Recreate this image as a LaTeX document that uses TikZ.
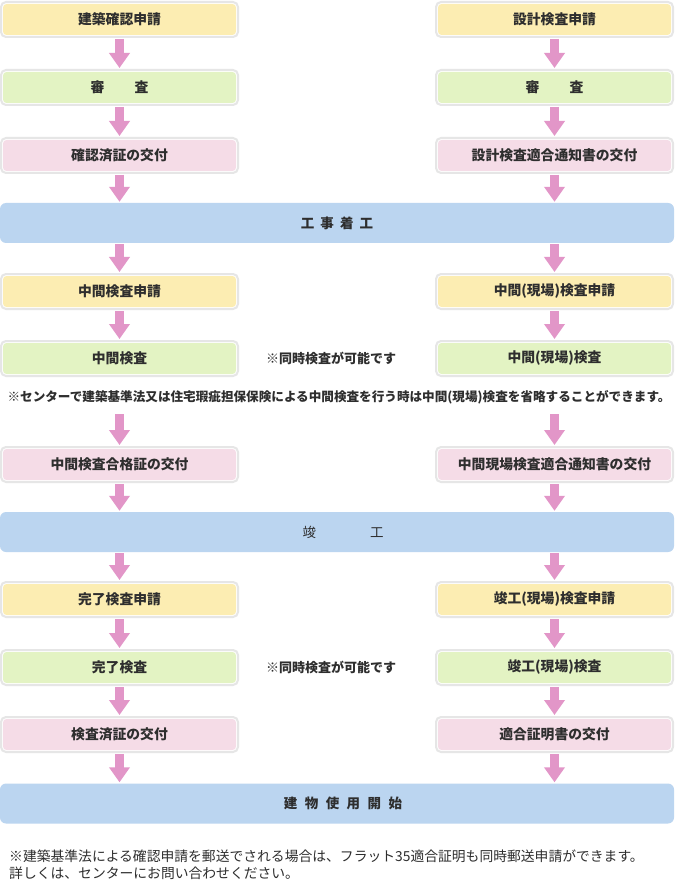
\documentclass[tikz,border=0pt]{standalone}
\usepackage{fontspec}
\setmainfont{Noto Sans CJK JP}
\usetikzlibrary{arrows.meta}
\definecolor{ylw}{HTML}{FCEDB2}
\definecolor{grn}{HTML}{E3F3C3}
\definecolor{pnk}{HTML}{F5DCE7}
\definecolor{bgray}{HTML}{E6E6E6}
\definecolor{bandblue}{HTML}{BBD5F0}
\definecolor{arrpink}{HTML}{E296C8}
\definecolor{txt}{HTML}{2E2E2E}
\begin{document}
\begin{tikzpicture}[x=1pt,y=-1pt,
  box/.style={draw=bgray, line width=2pt, fill=white, rounded corners=5pt,
    minimum width=237pt, minimum height=35pt, inner sep=0pt, text=txt,
    font=\bfseries\fontsize{13.8}{15}\selectfont,
    path picture={\fill[#1, rounded corners=3.5pt]
      ([shift={(2pt,-2pt)}]path picture bounding box.north west) rectangle
      ([shift={(-2pt,2pt)}]path picture bounding box.south east);}},
  band/.style={fill=bandblue, rounded corners=6pt, minimum width=674pt,
    minimum height=40pt, inner sep=0pt},
  bandtext/.style={text=txt, inner sep=0pt, font=\bfseries\fontsize{13.5}{15}\selectfont},
  note/.style={text=txt, inner sep=0pt, font=\bfseries\fontsize{13}{15}\selectfont},
  arr/.style={draw=arrpink, line width=9pt, -{Triangle[width=20pt,length=15pt]},
    shorten <=1pt, shorten >=1pt}]
\useasboundingbox (0,0) rectangle (674,882);
\fill[white] (0,0) rectangle (674,882);

% left column
\node[box=ylw] (L1) at (119.5,19.5) {建築確認申請};
\node[box=grn] (L2) at (119.5,87.5) {審\hspace{2.2em}査};
\node[box=pnk] (L3) at (119.5,155.5) {確認済証の交付};
\node[box=ylw] (L4) at (119.5,291.5) {中間検査申請};
\node[box=grn] (L5) at (119.5,358.5) {中間検査};
\node[box=pnk] (L6) at (119.5,464.5) {中間検査合格証の交付};
\node[box=ylw] (L7) at (119.5,599.5) {完了検査申請};
\node[box=grn] (L8) at (119.5,667.5) {完了検査};
\node[box=pnk] (L9) at (119.5,734.5) {検査済証の交付};

% right column
\node[box=ylw] (R1) at (554.5,19.5) {設計検査申請};
\node[box=grn] (R2) at (554.5,87.5) {審\hspace{2.2em}査};
\node[box=pnk] (R3) at (554.5,155.5) {設計検査適合通知書の交付};
\node[box=ylw] (R4) at (554.5,291.5) {中間(現場)検査申請};
\node[box=grn] (R5) at (554.5,358.5) {中間(現場)検査};
\node[box=pnk] (R6) at (554.5,464.5) {中間現場検査適合通知書の交付};
\node[box=ylw] (R7) at (554.5,599.5) {竣工(現場)検査申請};
\node[box=grn] (R8) at (554.5,667.5) {竣工(現場)検査};
\node[box=pnk] (R9) at (554.5,734.5) {適合証明書の交付};

% bands
\node[band] (B1) at (337,223) {};
\node[bandtext] (B1t) at (337,223) {工\hspace{0.45em}事\hspace{0.45em}着\hspace{0.45em}工};
\node[band] (B2) at (337,532) {};
\node[bandtext, font=\fontsize{13.5}{15}\selectfont] (B2t) at (343,532) {竣\hspace{4em}工};
\node[band] (B3) at (337,803.5) {};
\node[bandtext] (B3t) at (343,803.5) {建\hspace{0.55em}物\hspace{0.55em}使\hspace{0.55em}用\hspace{0.55em}開\hspace{0.55em}始};

% notes
\node[note] (N1) at (331,358) {※同時検査が可能です};
\node[note] (N2) at (331,667) {※同時検査が可能です};
\node[note, font=\bfseries\fontsize{12.6}{15}\selectfont] (N3) at (339,397)
  {※センターで建築基準法又は住宅瑕疵担保保険による中間検査を行う時は中間(現場)検査を省略することができます。};
\node[text=txt, inner sep=0pt, anchor=west, align=left,
  font=\fontsize{13.8}{17}\selectfont] (FN) at (9,864.5)
  {※建築基準法による確認申請を郵送でされる場合は、フラット35適合証明も同時郵送申請ができます。\\
   詳しくは、センターにお問い合わせください。};

% arrows
\coordinate (SL6) at (119.5,413);
\coordinate (SR6) at (554.5,413);
\draw[arr] (L1) -- (L2);
\draw[arr] (L2) -- (L3);
\draw[arr] (L3.south) -- (L3.south |- B1.north);
\draw[arr] (L4.north |- B1.south) -- (L4.north);
\draw[arr] (L4) -- (L5);
\draw[arr] (SL6) -- (L6.north);
\draw[arr] (L6.south) -- (L6.south |- B2.north);
\draw[arr] (L7.north |- B2.south) -- (L7.north);
\draw[arr] (L7) -- (L8);
\draw[arr] (L8) -- (L9);
\draw[arr] (L9.south) -- (L9.south |- B3.north);

\draw[arr] (R1) -- (R2);
\draw[arr] (R2) -- (R3);
\draw[arr] (R3.south) -- (R3.south |- B1.north);
\draw[arr] (R4.north |- B1.south) -- (R4.north);
\draw[arr] (R4) -- (R5);
\draw[arr] (SR6) -- (R6.north);
\draw[arr] (R6.south) -- (R6.south |- B2.north);
\draw[arr] (R7.north |- B2.south) -- (R7.north);
\draw[arr] (R7) -- (R8);
\draw[arr] (R8) -- (R9);
\draw[arr] (R9.south) -- (R9.south |- B3.north);
\end{tikzpicture}
\end{document}
